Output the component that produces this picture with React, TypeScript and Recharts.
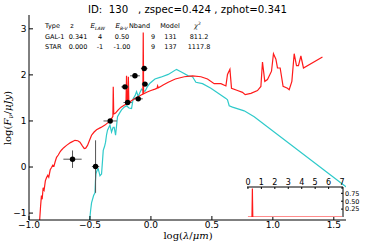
import React from "react";
import { ComposedChart, LineChart, Line, Scatter, ErrorBar, XAxis, YAxis, CartesianGrid } from "recharts";

const TITLE = "ID:  130   , zspec=0.424 , zphot=0.341";

// best-fit galaxy template (GAL-1), log(lambda/um) vs log(F/uJy)
const galLam = [
  -0.915, -0.905, -0.898, -0.892, -0.884, -0.876, -0.866, -0.856, -0.846, -0.838, -0.826, -0.815, -0.805,
  -0.795, -0.785, -0.774, -0.76, -0.745, -0.733, -0.715, -0.692, -0.66, -0.623, -0.6, -0.582, -0.565, -0.547,
  -0.535, -0.52, -0.505, -0.487, -0.466, -0.446, -0.41, -0.377, -0.35, -0.325, -0.312, -0.309, -0.305, -0.29,
  -0.268, -0.245, -0.22, -0.205, -0.2, -0.196, -0.19, -0.185, -0.181, -0.16, -0.13, -0.1, -0.077, -0.066,
  -0.063, -0.06, -0.03, 0.0, 0.033, 0.05, 0.055, 0.06, 0.08, 0.1, 0.142, 0.2, 0.273, 0.341, 0.41, 0.464,
  0.519, 0.574, 0.615, 0.628, 0.648, 0.661, 0.71, 0.751, 0.773, 0.82, 0.874, 0.902, 0.915, 0.934, 0.956,
  0.989, 1.005, 1.025, 1.038, 1.06, 1.084, 1.12, 1.134, 1.156, 1.175, 1.194, 1.21, 1.23, 1.251, 1.407,
];
const galFlux = [
  -1.25, -0.85, -0.62, -0.7, -0.45, -0.5, -0.3, -0.23, -0.18, -0.22, -0.06, -0.01, 0.04,
  0.02, 0.12, 0.21, 0.26, 0.33, 0.37, 0.42, 0.47, 0.53, 0.58, 0.57, 0.54, 0.47, 0.4,
  0.41, 0.47, 0.57, 0.69, 0.76, 0.81, 0.86, 0.91, 0.97, 1.04, 1.1, 1.74, 1.15, 1.17,
  1.24, 1.3, 1.34, 1.36, 1.98, 1.37, 1.4, 1.96, 1.4, 1.44, 1.49, 1.53, 1.57, 1.58,
  2.92, 1.59, 1.63, 1.66, 1.69, 1.71, 1.76, 1.72, 1.75, 1.78, 1.84, 1.91, 1.96, 1.98, 1.96, 1.91,
  1.81, 1.81, 1.76, 2.01, 2.12, 1.71, 1.66, 1.62, 1.57, 1.6, 1.66, 1.75, 2.28, 1.86, 1.9,
  2.08, 2.46, 2.34, 2.15, 2.15, 1.75, 1.71, 1.68, 1.86, 2.46, 2.2, 2.2, 2.41, 2.15, 2.39,
];

// best-fit star template
const starLam = [
  -0.506, -0.495, -0.487, -0.47, -0.459, -0.455, -0.451, -0.44, -0.432, -0.418, -0.405, -0.398, -0.391,
  -0.38, -0.372, -0.364, -0.356, -0.336, -0.323, -0.31, -0.301, -0.29, -0.274, -0.255, -0.241, -0.22, -0.2,
  -0.18, -0.159, -0.145, -0.13, -0.118, -0.104, -0.09, -0.077, -0.049, -0.03, -0.008, 0.033, 0.08, 0.142,
  0.21, 0.265, 0.306, 0.341, 0.355, 0.369, 0.423, 0.492, 0.615, 0.628, 0.642, 0.669, 0.765, 0.847, 1.57, 1.62,
];
const starFlux = [
  -1.25, -0.95, -0.78, -0.62, -0.56, -0.3, -0.15, -0.06, -0.04, -0.19, -0.15, 0.1, 0.36,
  0.45, 0.54, 0.7, 0.8, 0.91, 0.76, 0.86, 0.86, 0.69, 1.09, 1.18, 1.24, 1.3, 1.33,
  1.28, 1.27, 1.49, 1.55, 1.64, 1.53, 1.62, 1.69, 1.64, 1.74, 1.82, 1.91, 1.95, 2.01,
  2.12, 2.04, 1.98, 1.96, 1.9, 1.84, 1.81, 1.71, 1.49, 1.46, 1.33, 1.3, 1.22, 1.09, -0.37, -0.47,
];

// observed photometry
const obsLam = [-0.643, -0.454, -0.334, -0.213, -0.191, -0.131, -0.104, -0.055, -0.049];
const obsFlux = [0.17, 0.01, 1.0, 1.74, 1.4, 1.98, 1.48, 2.14, 1.8];
const obsLamErr = [0.075, 0.03, 0.055, 0.03, 0.034, 0.04, 0.037, 0.027, 0.025];
const obsFluxErr = [0.19, 0.57, 0.02, 0.02, 0.02, 0.02, 0.02, 0.02, 0.02];

// photo-z probability (inset)
const pdfZ = [0, 0.3, 0.32, 0.33, 0.34, 0.36, 7];
const pdfP = [0, 0, 0.55, 0.9, 0.55, 0, 0];

const xTicks = [-1, -0.5, 0, 0.5, 1, 1.5];
const yTicks = [-1, 0, 1, 2, 3];
const zTicks = [0, 1, 2, 3, 4, 5, 6, 7];
const pTicks = [0.25, 0.5, 0.75];

// fit table
const tableRows = [
  ["GAL-1", "0.341", "4", "0.50", "9", "131", "811.2"],
  ["STAR", "0.000", "-1", "-1.00", "9", "137", "1117.8"],
];
const colX = [45, 78, 100, 122, 153, 170.5, 199];

const galData = galLam.map((x, i) => ({ x, y: galFlux[i] }));
const starData = starLam.map((x, i) => ({ x, y: starFlux[i] }));
const obsData = obsLam.map((x, i) => ({ x, y: obsFlux[i], ex: obsLamErr[i], ey: obsFluxErr[i] }));
const pdfData = pdfZ.map((z, i) => ({ z, p: pdfP[i] }));

const FONT = "DejaVu Sans";
const minus = (s: string) => s.replace("-", "\u2212");
const fmtX = (v: number) => minus(v.toFixed(1));
const fmtY = (v: number) => minus(String(v));

const axisStyle = { stroke: "#000" };
const tickFont = { fill: "#000", fontSize: 9, fontFamily: FONT };
const insetFont = { fill: "#000", fontSize: 8, fontFamily: FONT };

export default function App() {
  return (
    <div style={{ position: "absolute", left: 0, top: 0, width: 368, height: 245, background: "#fff" }}>
      <ComposedChart width={368} height={245} margin={{ top: 15, right: 22, left: 0, bottom: 0 }}>
        <XAxis dataKey="x" type="number" domain={[-1, 1.6]} ticks={xTicks} allowDataOverflow height={25} interval={0}
          tickSize={-4} tickMargin={6} axisLine={axisStyle} tickLine={axisStyle} tick={tickFont} tickFormatter={fmtX} />
        <XAxis xAxisId="top" orientation="top" dataKey="x" type="number" domain={[-1, 1.6]} ticks={xTicks} interval={0}
          allowDataOverflow height={0} tickSize={-4} axisLine={axisStyle} tickLine={axisStyle} tick={false} />
        <YAxis type="number" domain={[-1.15, 3.3]} ticks={yTicks} allowDataOverflow width={29} interval={0}
          tickSize={-4} tickMargin={6.5} axisLine={axisStyle} tickLine={axisStyle} tick={tickFont} tickFormatter={fmtY} />
        <YAxis yAxisId="right" orientation="right" type="number" domain={[-1.15, 3.3]} ticks={yTicks} interval={0}
          allowDataOverflow width={0} tickSize={-4} axisLine={axisStyle} tickLine={axisStyle} tick={false} />
        <Line data={starData} dataKey="y" stroke="#2fcaca" strokeWidth={1.2} dot={false} isAnimationActive={false} />
        <Line data={galData} dataKey="y" stroke="#ff1a1a" strokeWidth={1.2} dot={false} isAnimationActive={false} />
        <Scatter data={obsData} dataKey="y" isAnimationActive={false}
          shape={(p: any) => <circle cx={p.cx} cy={p.cy} r={2.7} fill="#000" />}>
          <ErrorBar dataKey="ex" direction="x" width={0} stroke="#555" strokeWidth={1} />
          <ErrorBar dataKey="ey" direction="y" width={0} stroke="#555" strokeWidth={1} />
        </Scatter>
      </ComposedChart>

      <div style={{ position: "absolute", left: 240, top: 170 }}>
        <LineChart width={128} height={50} margin={{ top: 0, right: 0, left: 7, bottom: 3 }}>
          <CartesianGrid fill="#fff" horizontal={false} vertical={false} />
          <XAxis orientation="top" dataKey="z" type="number" domain={[-0.07, 7.07]} ticks={zTicks} allowDataOverflow interval={0}
            height={17} tickSize={-2} tickMargin={4.5} axisLine={axisStyle} tickLine={axisStyle} tick={insetFont} />
          <XAxis xAxisId="b" orientation="bottom" dataKey="z" type="number" domain={[-0.07, 7.07]} ticks={zTicks} interval={0}
            allowDataOverflow height={0} tickSize={-2} axisLine={axisStyle} tickLine={axisStyle} tick={false} />
          <YAxis orientation="right" type="number" domain={[0, 0.95]} ticks={pTicks} allowDataOverflow width={25} interval={0}
            tickSize={-2} tickMargin={4} axisLine={axisStyle} tickLine={axisStyle}
            tick={{ ...insetFont, fontSize: 6.5 }} tickFormatter={(v: number) => v.toFixed(2)} />
          <YAxis yAxisId="l" orientation="left" type="number" domain={[0, 0.95]} ticks={pTicks} allowDataOverflow interval={0}
            width={0} tickSize={-2} axisLine={axisStyle} tickLine={axisStyle} tick={false} />
          <Line data={pdfData} dataKey="p" stroke="#ff1a1a" strokeWidth={1.2} dot={false} isAnimationActive={false} />
        </LineChart>
      </div>

      <svg width={368} height={245} style={{ position: "absolute", left: 0, top: 0, pointerEvents: "none" }} fontFamily={FONT}>
        <text x={187.5} y={13} textAnchor="middle" fontSize={10.2} style={{ whiteSpace: "pre" }}>{TITLE}</text>

        <g fontSize={6.5} fill="#000">
          <text x={45} y={28}>Type</text>
          <text x={72} y={28} textAnchor="middle">z</text>
          <text x={97.5} y={28} textAnchor="middle">
            <tspan fontStyle="italic" fontFamily="DejaVu Serif">E</tspan>
            <tspan fontSize={4.5} dy={1.5} fontStyle="italic">LAW</tspan>
          </text>
          <text x={121.5} y={28} textAnchor="middle">
            <tspan fontStyle="italic" fontFamily="DejaVu Serif">E</tspan>
            <tspan fontSize={4.5} dy={1.5} fontStyle="italic">B-V</tspan>
          </text>
          <text x={139.5} y={28} textAnchor="middle">Nband</text>
          <text x={170} y={28} textAnchor="middle">Model</text>
          <text x={197.5} y={28} textAnchor="middle">
            <tspan fontStyle="italic" fontFamily="DejaVu Serif">χ</tspan>
            <tspan fontSize={4.5} dy={-3}>2</tspan>
          </text>
          {tableRows.map((row, r) =>
            row.map((cell, c) => (
              <text key={`${r}-${c}`} x={colX[c]} y={39 + r * 10} textAnchor={c === 0 ? "start" : "middle"}>{cell}</text>
            ))
          )}
        </g>

        <text x={188} y={239} textAnchor="middle" fontSize={10} fontFamily="DejaVu Serif">
          log(<tspan fontStyle="italic">λ</tspan>/<tspan fontStyle="italic">μm</tspan>)
        </text>
        <text transform="translate(11,118) rotate(-90)" textAnchor="middle" fontSize={10} fontFamily="DejaVu Serif">
          log(<tspan fontStyle="italic">F</tspan><tspan fontStyle="italic" fontSize={7} dy={2}>ν</tspan>
          <tspan dy={-2}>/</tspan><tspan fontStyle="italic">μJy</tspan>)
        </text>
      </svg>
    </div>
  );
}
